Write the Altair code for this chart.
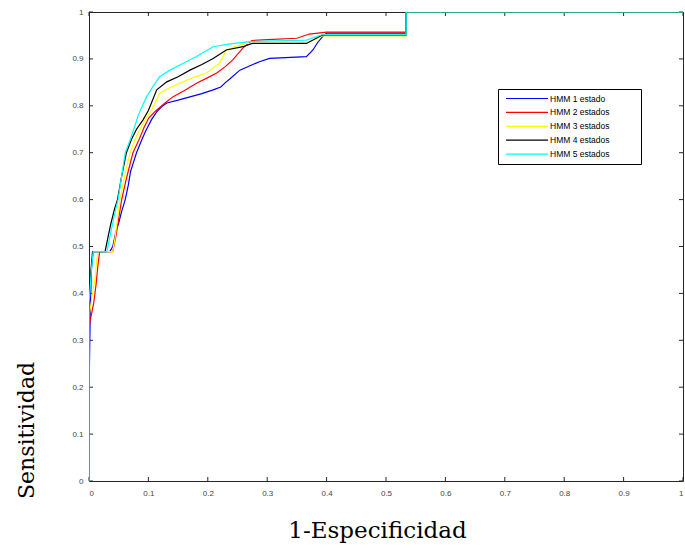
import altair as alt
import pandas as pd

# ROC curves (1-specificity, sensitivity) for each HMM configuration
SERIES = ["HMM 1 estado", "HMM 2 estados", "HMM 3 estados", "HMM 4 estados", "HMM 5 estados"]
COLORS = ["#0000ff", "#ff0000", "#ffff00", "#000000", "#00ffff"]

roc_hmm1 = [
    (0, 0), (0, 0.19), (0.002, 0.35), (0.004, 0.45), (0.007, 0.489), (0.035, 0.489),
    (0.040, 0.50), (0.045, 0.53), (0.050, 0.55), (0.055, 0.575), (0.061, 0.60),
    (0.066, 0.63), (0.070, 0.66), (0.075, 0.68), (0.080, 0.70), (0.088, 0.725),
    (0.095, 0.745), (0.105, 0.77), (0.114, 0.787), (0.122, 0.798), (0.131, 0.806),
    (0.150, 0.812), (0.170, 0.819), (0.190, 0.826), (0.209, 0.834), (0.222, 0.840),
    (0.230, 0.850), (0.237, 0.857), (0.254, 0.876), (0.270, 0.885), (0.287, 0.894),
    (0.304, 0.901), (0.366, 0.905), (0.377, 0.919), (0.385, 0.935), (0.393, 0.947),
    (0.400, 0.955), (0.534, 0.955), (0.534, 1.0), (1.0, 1.0),
]
roc_hmm2 = [
    (0, 0), (0, 0.33), (0.008, 0.38), (0.012, 0.42), (0.015, 0.46), (0.018, 0.489),
    (0.040, 0.489), (0.045, 0.52), (0.050, 0.56), (0.055, 0.60), (0.062, 0.64),
    (0.068, 0.67), (0.074, 0.70), (0.085, 0.73), (0.093, 0.755), (0.101, 0.775),
    (0.114, 0.791), (0.128, 0.806), (0.141, 0.819), (0.160, 0.832), (0.181, 0.848),
    (0.200, 0.860), (0.215, 0.870), (0.230, 0.884), (0.242, 0.898), (0.259, 0.923),
    (0.274, 0.939), (0.300, 0.941), (0.350, 0.944), (0.371, 0.953), (0.400, 0.957),
    (0.534, 0.957), (0.534, 1.0), (1.0, 1.0),
]
roc_hmm3 = [
    (0, 0), (0, 0.35), (0.006, 0.40), (0.010, 0.43), (0.013, 0.47), (0.015, 0.489),
    (0.040, 0.489), (0.044, 0.52), (0.048, 0.56), (0.052, 0.60), (0.060, 0.65),
    (0.069, 0.70), (0.080, 0.735), (0.090, 0.76), (0.097, 0.775), (0.105, 0.79),
    (0.119, 0.827), (0.135, 0.838), (0.153, 0.848), (0.175, 0.860), (0.198, 0.870),
    (0.220, 0.891), (0.231, 0.919), (0.250, 0.928), (0.265, 0.933), (0.366, 0.933),
    (0.393, 0.949), (0.534, 0.949), (0.534, 1.0), (1.0, 1.0),
]
roc_hmm4 = [
    (0, 0), (0, 0.40), (0.004, 0.46), (0.006, 0.489), (0.027, 0.489), (0.032, 0.52),
    (0.037, 0.55), (0.043, 0.58), (0.048, 0.60), (0.055, 0.65), (0.063, 0.70),
    (0.072, 0.73), (0.080, 0.75), (0.091, 0.77), (0.100, 0.79), (0.114, 0.834),
    (0.131, 0.851), (0.150, 0.862), (0.170, 0.876), (0.190, 0.888), (0.209, 0.901),
    (0.231, 0.919), (0.259, 0.926), (0.275, 0.933), (0.366, 0.933), (0.393, 0.951),
    (0.534, 0.951), (0.534, 1.0), (1.0, 1.0),
]
roc_hmm5 = [
    (0, 0), (0, 0.38), (0.004, 0.45), (0.007, 0.489), (0.030, 0.489), (0.035, 0.52),
    (0.040, 0.55), (0.045, 0.58), (0.049, 0.60), (0.055, 0.65), (0.061, 0.70),
    (0.070, 0.73), (0.078, 0.76), (0.083, 0.78), (0.090, 0.80), (0.097, 0.819),
    (0.108, 0.842), (0.119, 0.862), (0.135, 0.875), (0.153, 0.887), (0.181, 0.905),
    (0.209, 0.926), (0.237, 0.932), (0.271, 0.937), (0.366, 0.940), (0.393, 0.952),
    (0.534, 0.952), (0.534, 1.0), (1.0, 1.0),
]
CURVES = [roc_hmm1, roc_hmm2, roc_hmm3, roc_hmm4, roc_hmm5]

TICKS = [0, 0.1, 0.2, 0.3, 0.4, 0.5, 0.6, 0.7, 0.8, 0.9, 1.0]

rows = []
for name, curve in zip(SERIES, CURVES):
    for i, (fx, ty) in enumerate(curve):
        rows.append({"serie": name, "fpr": fx, "tpr": ty, "idx": i})
roc = pd.DataFrame(rows)
ticks = pd.DataFrame({"t": TICKS})

W, H = 594, 469
TICK_LEN = 4
FRAME = "#262626"

x_scale = alt.Scale(domain=[0, 1], nice=False, zero=False)
y_scale = alt.Scale(domain=[0, 1], nice=False, zero=False)
x_axis = alt.Axis(
    values=TICKS, format="~g", ticks=False, domain=False, grid=False,
    labelPadding=8, labelFont="Liberation Sans", labelFontSize=8, labelColor="#444444",
    titleFont="DejaVu Serif", titleFontSize=23, titleFontWeight="normal", titleColor="#000000",
    titleX=288, titleY=56, titleBaseline="alphabetic", titleAlign="center",
)
y_axis = alt.Axis(
    values=TICKS, format="~g", ticks=False, domain=False, grid=False,
    labelPadding=6, labelFont="Liberation Sans", labelFontSize=8, labelColor="#444444",
    titleFont="DejaVu Serif", titleFontSize=22, titleFontWeight="normal", titleColor="#000000",
    titleX=-56, titleY=418, titleBaseline="alphabetic", titleAlign="center", titleAngle=270,
)
X = alt.X("fpr:Q", scale=x_scale, axis=x_axis, title="1-Especificidad")
Y = alt.Y("tpr:Q", scale=y_scale, axis=y_axis, title="Sensitividad")
XT = alt.X("t:Q", scale=x_scale, axis=x_axis, title="1-Especificidad")
YT = alt.Y("t:Q", scale=y_scale, axis=y_axis, title="Sensitividad")

# blank (non-whitespace) glyphs after each label widen the legend box on the right
PAD_RIGHT = "\u2800" * 4

lines = alt.Chart(roc).mark_line(strokeWidth=1.2, clip=True).encode(
    x=X,
    y=Y,
    order=alt.Order("idx:Q"),
    color=alt.Color(
        "serie:N",
        scale=alt.Scale(domain=SERIES, range=COLORS),
        legend=alt.Legend(
            title=None, orient="none", legendX=409, legendY=77,
            symbolType="stroke", symbolSize=1764, symbolStrokeWidth=1.2,
            clipHeight=13, rowPadding=0.9, padding=3,
            symbolOffset=4, labelOffset=1,
            labelFont="Liberation Sans", labelFontSize=8.5, labelColor="#000000",
            labelExpr=f"datum.label + '{PAD_RIGHT}'",
            strokeColor="#000000", fillColor="#ffffff", cornerRadius=0,
        ),
    ),
)

# inward tick marks on all four sides of the box
tick_style = dict(color=FRAME, strokeWidth=1)
bottom_ticks = alt.Chart(ticks).mark_rule(**tick_style).encode(
    x=XT, y=alt.value(H), y2=alt.value(H - TICK_LEN))
top_ticks = alt.Chart(ticks).mark_rule(**tick_style).encode(
    x=XT, y=alt.value(0), y2=alt.value(TICK_LEN))
left_ticks = alt.Chart(ticks).mark_rule(**tick_style).encode(
    y=YT, x=alt.value(0), x2=alt.value(TICK_LEN))
right_ticks = alt.Chart(ticks).mark_rule(**tick_style).encode(
    y=YT, x=alt.value(W), x2=alt.value(W - TICK_LEN))

chart = (
    alt.layer(bottom_ticks, top_ticks, left_ticks, right_ticks, lines)
    .properties(
        width=W, height=H,
        autosize=alt.AutoSizeParams(type="none"),
        padding={"left": 89, "top": 12, "right": 2, "bottom": 69},
        background="#ffffff",
    )
    .configure_view(stroke=FRAME, strokeWidth=1)
)

chart.save("out.html", embed_options={"renderer": "svg", "actions": False})
